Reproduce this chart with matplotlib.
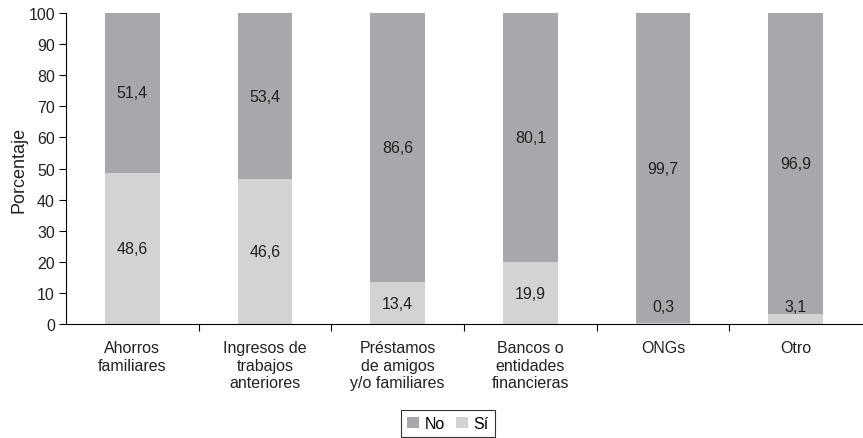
import matplotlib
matplotlib.use("Agg")
import matplotlib.pyplot as plt
import numpy as np

plt.rcParams["font.family"] = ["Liberation Sans", "DejaVu Sans"]

categorias = [
    "Ahorros\nfamiliares",
    "Ingresos de\ntrabajos\nanteriores",
    "Préstamos\nde amigos\ny/o familiares",
    "Bancos o\nentidades\nfinancieras",
    "ONGs",
    "Otro",
]
si = [48.6, 46.6, 13.4, 19.9, 0.3, 3.1]
no = [51.4, 53.4, 86.6, 80.1, 99.7, 96.9]

COLOR_NO = "#a7a8ab"
COLOR_SI = "#d2d3d5"
FS = 11.5


def fmt(v):
    return f"{v:.1f}".replace(".", ",")


fig = plt.figure(figsize=(8.63, 4.39), dpi=100)
ax = fig.add_axes([66 / 863, 1 - 325 / 439, 796 / 863, 311 / 439])

x = np.arange(len(categorias)) + 0.5
w = 0.41
ax.bar(x, si, width=w, color=COLOR_SI, label="Sí", zorder=2)
ax.bar(x, no, width=w, bottom=si, color=COLOR_NO, label="No", zorder=2)

for xi, s, n in zip(x, si, no):
    y_si = s / 2 if s >= 8 else 5.5
    ax.text(xi, y_si, fmt(s), ha="center", va="center", fontsize=FS, color="#222222")
    ax.text(xi, s + n / 2, fmt(n), ha="center", va="center", fontsize=FS, color="#222222")

ax.set_xlim(0, len(categorias))
ax.set_ylim(0, 100)
ax.set_yticks(np.arange(0, 101, 10))
ax.set_xticks(np.arange(1, len(categorias)))
ax.set_xticklabels([])
ax.tick_params(axis="y", labelsize=FS, length=5, direction="out", pad=3, labelcolor="#222222")
ax.tick_params(axis="x", length=5, direction="out")
for xi, c in zip(x, categorias):
    ax.text(xi, -0.052, c, transform=ax.get_xaxis_transform(), ha="center", va="top",
            fontsize=FS, color="#222222", linespacing=1.22)

ax.spines["top"].set_visible(False)
ax.spines["right"].set_visible(False)
ax.set_ylabel("Porcentaje", fontsize=13, color="#222222")
ax.yaxis.set_label_coords(-38 / 796, 0.5)

handles, labels = ax.get_legend_handles_labels()
leg = fig.legend(handles[::-1], labels[::-1], loc="center", bbox_to_anchor=(448 / 863, 1 - 424.5 / 439),
                 ncol=2, frameon=True, fancybox=False, fontsize=FS, handlelength=0.75,
                 handleheight=0.75, handletextpad=0.35, columnspacing=0.7, borderpad=0.4,
                 borderaxespad=0)
leg.get_frame().set_edgecolor("black")
leg.get_frame().set_linewidth(0.8)

fig.savefig("out.png", dpi=100)
